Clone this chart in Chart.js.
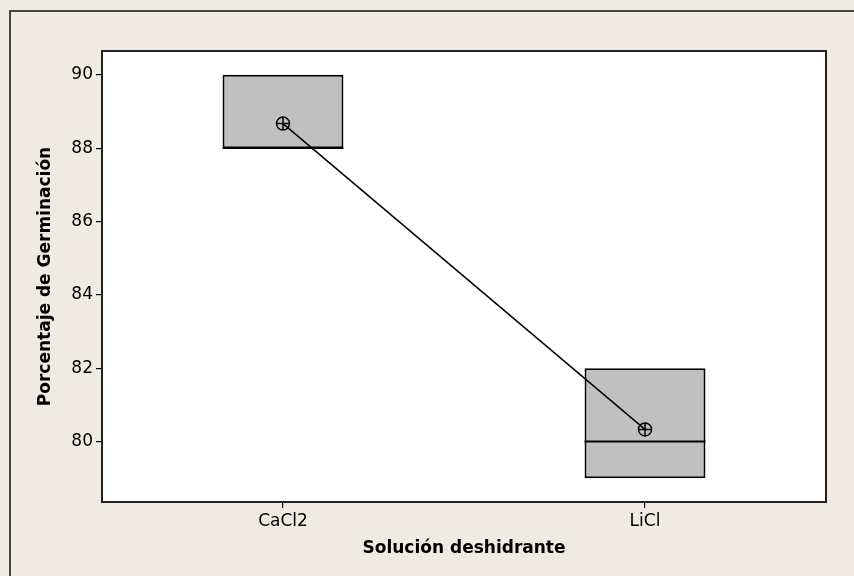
<!DOCTYPE html>
<html>
<head>
<meta charset="utf-8">
<script src="https://cdn.jsdelivr.net/npm/chart.js@4.4.1/dist/chart.umd.min.js"></script>
<style>
  html, body { margin: 0; padding: 0; background: #efebe2; overflow: hidden; }
  #wrap { width: 854px; height: 576px; position: relative; }
</style>
</head>
<body>
<div id="wrap"><canvas id="boxChart" width="854" height="576"></canvas></div>
<script>
// data
const categories = ['CaCl2', 'LiCl'];
const q1Values = [88, 79];
const q3Values = [90, 82];
const medianValues = [88, 80];
const minValues = [88, 79];
const maxValues = [90, 82];
const meanValues = [88.67, 80.33];
const yTickValues = [80, 82, 84, 86, 88, 90];

const boxes = categories.map((c, i) => [q1Values[i], q3Values[i]]);

// background, plot frame, medians and whiskers
const boxPlugin = {
    id: 'boxExtras',
    beforeDraw(chart) {
        const { ctx, chartArea } = chart;
        ctx.save();
        ctx.fillStyle = '#efebe2';
        ctx.fillRect(0, 0, chart.width, chart.height);
        ctx.strokeStyle = '#444444';
        ctx.lineWidth = 2;
        ctx.beginPath();
        ctx.moveTo(10, chart.height);
        ctx.lineTo(10, 11);
        ctx.lineTo(chart.width, 11);
        ctx.stroke();
        ctx.fillStyle = '#ffffff';
        ctx.fillRect(chartArea.left, chartArea.top, chartArea.right - chartArea.left, chartArea.bottom - chartArea.top);
        ctx.restore();
    },
    afterDatasetsDraw(chart) {
        const { ctx, scales } = chart;
        const meta = chart.getDatasetMeta(0);
        ctx.save();
        ctx.strokeStyle = '#000000';
        ctx.lineWidth = 1.8;
        meta.data.forEach((bar, i) => {
            const half = bar.width / 2;
            const ym = scales.y.getPixelForValue(medianValues[i]);
            ctx.beginPath();
            ctx.moveTo(bar.x - half, ym);
            ctx.lineTo(bar.x + half, ym);
            ctx.stroke();
            // whiskers
            ctx.beginPath();
            ctx.moveTo(bar.x, scales.y.getPixelForValue(q3Values[i]));
            ctx.lineTo(bar.x, scales.y.getPixelForValue(maxValues[i]));
            ctx.moveTo(bar.x, scales.y.getPixelForValue(q1Values[i]));
            ctx.lineTo(bar.x, scales.y.getPixelForValue(minValues[i]));
            ctx.stroke();
        });
        ctx.restore();
    },
    afterDraw(chart) {
        const { ctx, chartArea } = chart;
        ctx.save();
        ctx.strokeStyle = '#222222';
        ctx.lineWidth = 2;
        ctx.strokeRect(chartArea.left, chartArea.top, chartArea.right - chartArea.left, chartArea.bottom - chartArea.top);
        ctx.restore();
    }
};

const ctx = document.getElementById('boxChart').getContext('2d');

new Chart(ctx, {
    type: 'bar',
    data: {
        labels: categories,
        datasets: [
            {
                type: 'bar',
                data: boxes,
                backgroundColor: '#c0c0c0',
                borderColor: '#000000',
                borderWidth: 2,
                borderSkipped: false,
                categoryPercentage: 1,
                barPercentage: 0.334,
                order: 3
            },
            {
                type: 'line',
                data: meanValues,
                borderColor: '#000000',
                borderWidth: 1.5,
                pointStyle: 'circle',
                pointRadius: 6.5,
                pointBorderWidth: 1.5,
                pointBackgroundColor: 'rgba(0,0,0,0)',
                pointBorderColor: '#000000',
                fill: false,
                order: 1
            },
            {
                type: 'line',
                data: meanValues,
                showLine: false,
                pointStyle: 'cross',
                pointRadius: 6.5,
                pointBorderWidth: 1.5,
                pointBorderColor: '#000000',
                order: 0
            }
        ]
    },
    options: {
        responsive: false,
        animation: false,
        layout: {
            padding: { left: 0, top: 51, right: 28, bottom: 0 }
        },
        plugins: {
            legend: { display: false },
            tooltip: { enabled: false }
        },
        scales: {
            x: {
                offset: true,
                afterFit: (scale) => { scale.height = 74; },
                grid: {
                    offset: false,
                    drawOnChartArea: false,
                    tickLength: 6,
                    color: '#000000',
                    lineWidth: 1.2
                },
                border: { display: false },
                ticks: {
                    color: '#000000',
                    padding: 3,
                    font: { family: 'DejaVu Sans', size: 17 }
                },
                title: {
                    display: true,
                    text: 'Solución deshidrante',
                    color: '#000000',
                    font: { family: 'DejaVu Sans', size: 17, weight: 'bold' },
                    padding: { top: 0, bottom: 17 }
                }
            },
            y: {
                min: 78.35,
                max: 90.65,
                afterFit: (scale) => { scale.width = 102; },
                afterBuildTicks: (scale) => {
                    scale.ticks = yTickValues.map(v => ({ value: v }));
                },
                grid: {
                    drawOnChartArea: false,
                    tickLength: 6,
                    color: '#000000',
                    lineWidth: 1.2
                },
                border: { display: false },
                ticks: {
                    color: '#000000',
                    padding: 3,
                    font: { family: 'DejaVu Sans', size: 17 }
                },
                title: {
                    display: true,
                    text: 'Porcentaje de Germinación',
                    color: '#000000',
                    font: { family: 'DejaVu Sans', size: 17, weight: 'bold' },
                    padding: { top: 35, bottom: 0 }
                }
            }
        }
    },
    plugins: [boxPlugin]
});
</script>
</body>
</html>
